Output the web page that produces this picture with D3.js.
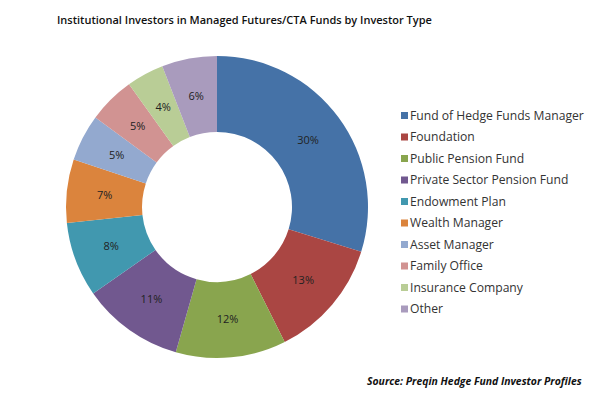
<!DOCTYPE html>
<html><head><meta charset="utf-8">
<script src="https://cdn.jsdelivr.net/npm/d3@7"></script>
<style>body{margin:0;background:#fff;} svg{display:block;}</style>
</head><body>
<svg id="c" width="595" height="397"></svg>
<script>
const categories = ["Fund of Hedge Funds Manager","Foundation","Public Pension Fund","Private Sector Pension Fund","Endowment Plan","Wealth Manager","Asset Manager","Family Office","Insurance Company","Other"];
const values = [29.8, 12.8, 11.8, 10.9, 8.0, 6.8, 5.0, 5.0, 4.0, 5.9];
const labels = ["30%","13%","12%","11%","8%","7%","5%","5%","4%","6%"];
const colors = ["#4572A7","#AA4643","#89A54E","#71588F","#4198AF","#DB843D","#93A9CF","#D19392","#B9CD96","#A99BBD"];
const title = "Institutional Investors in Managed Futures/CTA Funds by Investor Type";
const source = "Source: Preqin Hedge Fund Investor Profiles";

const svg = d3.select("#c");
const font = "'Open Sans', 'DejaVu Sans', sans-serif";

function fit(sel, target){
  const w = sel.node().getComputedTextLength();
  const fs = parseFloat(sel.attr("font-size"));
  sel.attr("font-size", (fs*target/w).toFixed(2));
}

const t = svg.append("text").attr("x",57).attr("y",24).attr("font-family",font).attr("font-size",13)
  .attr("font-weight",600).attr("fill","#111").text(title);
fit(t, 375);

const cx=217, cy=207, R=151, r=75;
const pie = d3.pie().sort(null).value(d=>d);
const arcs = pie(values);
const arc = d3.arc().innerRadius(r).outerRadius(R);
const g = svg.append("g").attr("transform",`translate(${cx},${cy})`);
g.selectAll("path").data(arcs).join("path").attr("d",arc).attr("fill",(d,i)=>colors[i]);
g.selectAll("text").data(arcs).join("text")
  .attr("transform",d=>`translate(${arc.centroid(d)})`)
  .attr("text-anchor","middle").attr("dy","0.35em")
  .attr("font-family",font).attr("font-size",11).attr("fill","#222")
  .text((d,i)=>labels[i]);

const lg = svg.append("g");
const y0=115.5, step=21.5;
let legendFs = 12;
const probe = lg.append("text").attr("font-family",font).attr("font-size",12).text(categories[0]);
legendFs = 12*174/probe.node().getComputedTextLength();
probe.remove();
categories.forEach((c,i)=>{
  lg.append("rect").attr("x",401).attr("y",y0+i*step-3.5).attr("width",7).attr("height",7).attr("fill",colors[i]);
  lg.append("text").attr("x",410).attr("y",y0+i*step).attr("dy","0.35em")
    .attr("font-family",font).attr("font-size",legendFs.toFixed(2)).attr("fill","#333").text(c);
});
const s = svg.append("text").attr("x",367).attr("y",385).attr("font-family",font).attr("font-size",10.5)
  .attr("font-weight","bold").attr("font-style","italic").attr("fill","#111").text(source);
fit(s, 215);
</script>
</body></html>
